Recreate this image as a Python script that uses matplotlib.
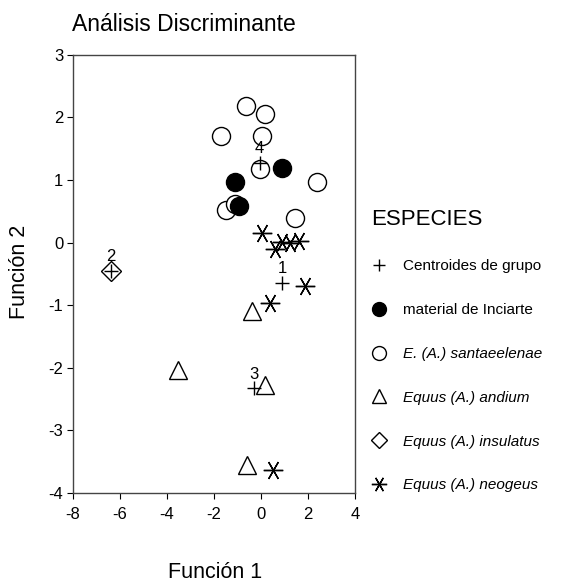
import matplotlib
matplotlib.use("Agg")
import matplotlib.pyplot as plt
from matplotlib.lines import Line2D

plt.rcParams['font.family'] = ['Liberation Sans', 'DejaVu Sans']
plt.rcParams['axes.unicode_minus'] = False

# Data
santa_x = [-0.62, 0.16, -1.71, 0.02, -0.06, 2.36, -1.47, -1.12, 1.46]
santa_y = [2.18, 2.05, 1.71, 1.71, 1.17, 0.97, 0.52, 0.62, 0.39]
inciarte_x = [0.91, -1.12, -0.94]
inciarte_y = [1.19, 0.97, 0.59]
neogeus_x = [0.02, 0.58, 0.91, 1.25, 1.62, 1.86, 0.37, 0.51]
neogeus_y = [0.15, -0.10, 0.01, 0.00, 0.03, -0.69, -0.96, -3.63]
andium_x = [-0.37, -3.53, 0.16, -0.58]
andium_y = [-1.09, -2.04, -2.27, -3.55]
insulatus_x = [-6.40]
insulatus_y = [-0.45]
centroid_labels = ["1", "2", "3", "4"]
centroid_x = [0.89, -6.40, -0.30, -0.06]
centroid_y = [-0.65, -0.45, -2.33, 1.27]

legend_labels = ["Centroides de grupo", "material de Inciarte", "E. (A.) santaeelenae",
                 "Equus (A.) andium", "Equus (A.) insulatus", "Equus (A.) neogeus"]

xticks = [-8, -6, -4, -2, 0, 2, 4]
yticks = [-4, -3, -2, -1, 0, 1, 2, 3]

fig = plt.figure(figsize=(5.78, 5.85), dpi=100)
ax = fig.add_axes([0.1263, 0.1573, 0.488, 0.749])

star = (6, 2, 90)
common = dict(linestyle='none', color='black')
ax.plot(santa_x, santa_y, marker='o', markersize=13, markerfacecolor='white',
        markeredgecolor='black', markeredgewidth=1.0, **common)
ax.plot(inciarte_x, inciarte_y, marker='o', markersize=13, markerfacecolor='black',
        markeredgecolor='black', **common)
ax.plot(neogeus_x, neogeus_y, marker=star, markersize=14, markeredgewidth=1.0, **common)
ax.plot(andium_x, andium_y, marker='^', markersize=13, markerfacecolor='white',
        markeredgecolor='black', markeredgewidth=1.0, **common)
ax.plot(insulatus_x, insulatus_y, marker='D', markersize=10, markerfacecolor='white',
        markeredgecolor='black', markeredgewidth=1.0, **common)
ax.plot(centroid_x, centroid_y, marker='+', markersize=10, markeredgewidth=1.0, **common)
for lab, cx, cy in zip(centroid_labels, centroid_x, centroid_y):
    ax.annotate(lab, (cx, cy), xytext=(0, 5), textcoords='offset points',
                ha='center', va='bottom', fontsize=12)

ax.set_xlim(-8, 4)
ax.set_ylim(-4, 3)
ax.set_xticks(xticks)
ax.set_yticks(yticks)
ax.tick_params(labelsize=12, length=4, width=0.8, pad=3)
ax.tick_params(axis='x', pad=6)
for s in ax.spines.values():
    s.set_linewidth(1.0)
    s.set_color('#444444')

fig.text(0.124, 0.958, "Análisis Discriminante", fontsize=16.5, ha='left', va='center')
fig.text(0.033, 0.535, "Función 2", fontsize=15.5, rotation=90, ha='center', va='center')
fig.text(0.372, 0.022, "Función 1", fontsize=15.5, ha='center', va='center')

handles = [
    Line2D([], [], marker='+', markersize=9, markeredgewidth=1.0, **common),
    Line2D([], [], marker='o', markersize=10, markerfacecolor='black', **common),
    Line2D([], [], marker='o', markersize=10, markerfacecolor='white', markeredgewidth=1.0, **common),
    Line2D([], [], marker='^', markersize=10, markerfacecolor='white', markeredgewidth=1.0, **common),
    Line2D([], [], marker='D', markersize=8, markerfacecolor='white', markeredgewidth=1.0, **common),
    Line2D([], [], marker=star, markersize=11, markeredgewidth=1.0, **common),
]
leg = fig.legend(handles, legend_labels, title="ESPECIES", loc='upper left',
                 bbox_to_anchor=(0.618, 0.667), frameon=False, fontsize=11,
                 title_fontsize=16, labelspacing=1.95, handlelength=1.0,
                 handletextpad=1.1, alignment='left')
for i, t in enumerate(leg.get_texts()):
    if i >= 2:
        t.set_fontstyle('italic')

fig.savefig("out.png", dpi=100)
